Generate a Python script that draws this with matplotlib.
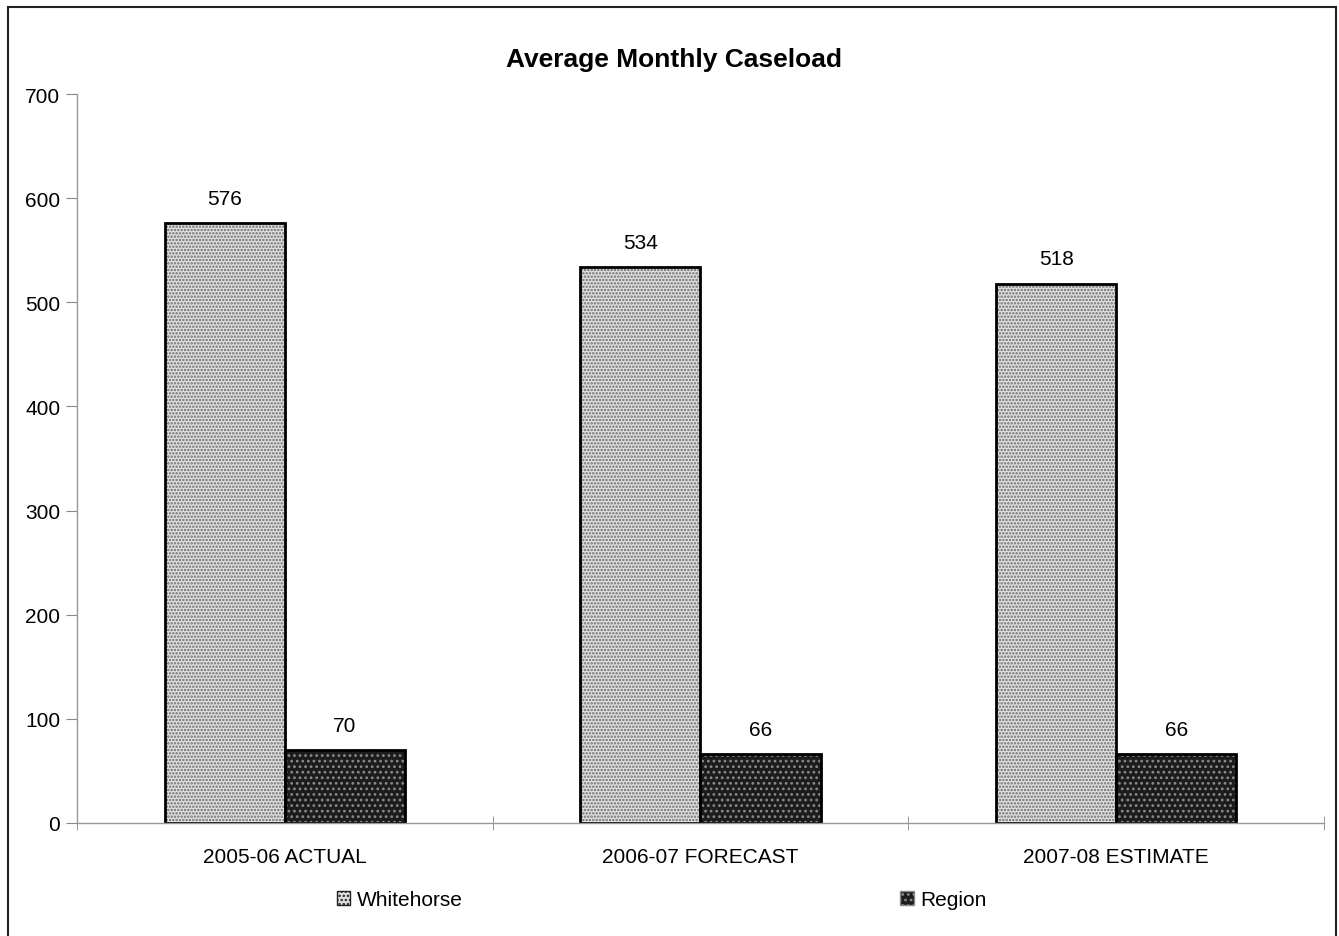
import matplotlib
matplotlib.use('Agg')
import numpy as np
import matplotlib.pyplot as plt
from matplotlib.patches import Rectangle

plt.rcParams['font.family'] = ['Liberation Sans', 'DejaVu Sans']

categories = ['2005-06 ACTUAL', '2006-07 FORECAST', '2007-08 ESTIMATE']
whitehorse = [576, 534, 518]
region = [70, 66, 66]
yticks = [0, 100, 200, 300, 400, 500, 600, 700]

fig = plt.figure(figsize=(13.39, 9.37), dpi=100)
ax = fig.add_axes([0.0575, 0.1206, 0.9313, 0.778])

x = np.arange(len(categories))
w = 0.289

# fill with dot texture, then a black outline on top
plt.rcParams['hatch.linewidth'] = 1.2
ax.bar(x - w / 2, whitehorse, w, color='#e2e2e2', edgecolor='#6a6a6a', hatch='.....', lw=0)
ax.bar(x + w / 2, region, w, color='#1c1c1c', edgecolor='#8a8a8a', hatch='...', lw=0)
ax.bar(x - w / 2, whitehorse, w, facecolor='none', edgecolor='black', lw=2)
ax.bar(x + w / 2, region, w, facecolor='none', edgecolor='black', lw=2)

for xi, v in zip(x - w / 2, whitehorse):
    ax.annotate(str(v), (xi, v), xytext=(0, 11), textcoords='offset points',
                ha='center', va='bottom', fontsize=15)
for xi, v in zip(x + w / 2, region):
    ax.annotate(str(v), (xi, v), xytext=(0, 11), textcoords='offset points',
                ha='center', va='bottom', fontsize=15)

ax.set_xlim(-0.5, 2.5)
ax.set_ylim(0, 700)
ax.set_yticks(yticks)
ax.set_xticks(x)
ax.set_xticklabels(categories)
ax.set_xticks([-0.5, 0.5, 1.5, 2.5], minor=True)
ax.tick_params(axis='x', which='major', length=0, pad=17, labelsize=15)
ax.tick_params(axis='x', which='minor', direction='inout', length=10, color='#888888')
ax.tick_params(axis='y', direction='out', length=8, pad=4, color='#888888', labelsize=15)

for s in ['top', 'right']:
    ax.spines[s].set_visible(False)
for s in ['left', 'bottom']:
    ax.spines[s].set_color('#999999')
    ax.spines[s].set_linewidth(1)

fig.text(674 / 1339, 1 - 60 / 937, 'Average Monthly Caseload', fontsize=19,
         fontweight='bold', ha='center', va='center')

h1 = Rectangle((0, 0), 1, 1, facecolor='#e2e2e2', edgecolor='#222222', hatch='....', lw=1)
h2 = Rectangle((0, 0), 1, 1, facecolor='#1c1c1c', edgecolor='#8a8a8a', hatch='...', lw=1)
fig.legend([h1, h2], ['Whitehorse', 'Region'], loc='center', bbox_to_anchor=(0.494, 0.039),
           ncol=2, frameon=False, fontsize=15, handlelength=0.65, handleheight=0.65,
           handletextpad=0.3, columnspacing=21)

# page frame around the chart
fig.patches.append(Rectangle((8 / 1339, -0.02), 1328 / 1339, 1.02 - 8 / 937,
                             transform=fig.transFigure, fill=False,
                             edgecolor='#222222', lw=1.5))

fig.savefig('out.png', dpi=100)
